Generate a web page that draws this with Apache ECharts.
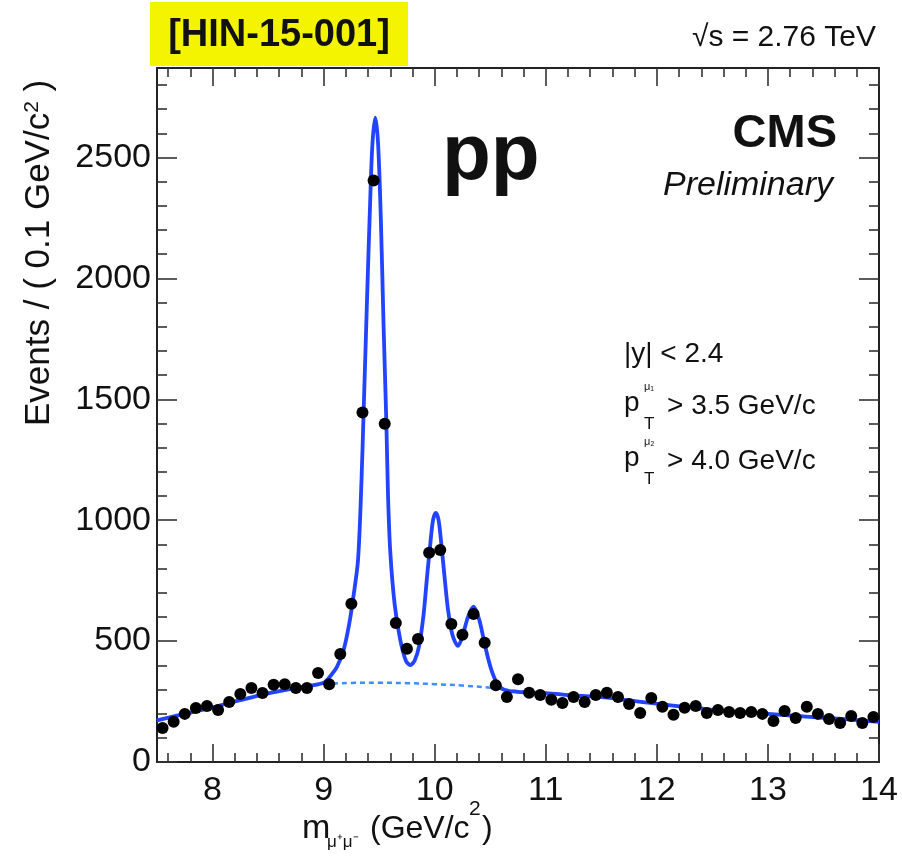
<!DOCTYPE html>
<html><head><meta charset="utf-8">
<script src="https://cdn.jsdelivr.net/npm/echarts@6/dist/echarts.min.js"></script>
<style>html,body{margin:0;padding:0;background:#fff}#c{width:902px;height:860px}</style>
</head><body><div id="c"></div>
<script>
// ---- data ----
const massCenters = [7.55,7.65,7.75,7.85,7.95,8.05,8.15,8.25,8.35,8.45,8.55,8.65,8.75,8.85,8.95,
  9.05,9.15,9.25,9.35,9.45,9.55,9.65,9.75,9.85,9.95,10.05,10.15,10.25,10.35,10.45,10.55,10.65,10.75,10.85,10.95,
  11.05,11.15,11.25,11.35,11.45,11.55,11.65,11.75,11.85,11.95,12.05,12.15,12.25,12.35,12.45,12.55,12.65,12.75,12.85,12.95,
  13.05,13.15,13.25,13.35,13.45,13.55,13.65,13.75,13.85,13.95];
const eventCounts = [141,166,199,223,232,215,248,281,306,285,319,322,306,306,368,
  322,447,654,1445,2405,1399,575,468,509,865,877,571,526,612,493,317,269,342,286,277,
  257,244,269,248,277,286,269,240,203,265,228,195,224,232,203,215,207,203,207,199,
  170,211,182,228,199,178,161,190,161,186];
const fitMass = [7.5,7.75,8.0,8.25,8.5,8.75,9.0,9.06,9.12,9.18,9.23,9.27,9.31,9.34,9.36,9.39,9.42,9.44,9.465,9.49,9.515,9.54,9.565,9.58,9.6,9.64,9.69,9.74,9.78,9.82,9.86,9.9,9.93,9.96,9.985,10.01,10.035,10.06,10.09,10.12,10.16,10.21,10.25,10.3,10.35,10.4,10.44,10.48,10.52,10.57,10.63,10.75,11.0,11.25,11.5,11.75,12.0,12.25,12.5,12.75,13.0,13.25,13.5,13.75,14.0];
const fitTotal = [172,199,226,256,284,306,328,355,393,463,570,690,836,1150,1445,1900,2330,2560,2665,2560,2250,1800,1400,1100,870,650,505,420,401,420,480,610,760,900,1000,1030,1000,900,760,630,525,480,520,600,642,590,510,430,368,318,298,290,285,275,268,255,241,228,216,207,199,191,183,175,166];
const bkgMass = [7.5,7.75,8.0,8.25,8.5,8.75,9.0,9.25,9.5,9.75,10.0,10.25,10.5,10.75,11.0,11.25,11.5,11.75,12.0,12.25,12.5,12.75,13.0,13.25,13.5,13.75,14.0];
const bkgValues = [172,199,226,256,284,306,321,327,328,326,322,316,307,293,285,275,268,255,241,228,216,207,199,191,183,175,166];
const xTickLabels = [8,9,10,11,12,13,14];
const yTickLabels = [0,500,1000,1500,2000,2500];

// ---- helpers ----
const FONT = '"Liberation Sans", Arial, Helvetica, sans-serif';
const xMinor = []; for (let i = 38; i <= 70; i++) { if (i % 5 !== 0) xMinor.push(i / 5); }
const yMinor = []; for (let v = 100; v < 2870; v += 100) { if (v % 500 !== 0) yMinor.push(v); }
const frame = {color: '#222', width: 2};

function xAx(pos, ticks, len, showLabels, showLine) {
  return {type: 'value', position: pos, min: 7.5, max: 14,
    axisLine: {show: showLine, onZero: false, lineStyle: frame},
    axisTick: {show: true, inside: true, length: len, customValues: ticks, lineStyle: {color: '#333', width: 1.6}},
    axisLabel: {show: showLabels, customValues: xTickLabels, margin: 12, fontSize: 34, color: '#111', fontFamily: FONT,
      formatter: v => String(v)},
    splitLine: {show: false}};
}
function yAx(pos, ticks, len, showLabels, showLine) {
  return {type: 'value', position: pos, min: 0, max: 2870,
    axisLine: {show: showLine, onZero: false, lineStyle: frame},
    axisTick: {show: true, inside: true, length: len, customValues: ticks, lineStyle: {color: '#333', width: 1.6}},
    axisLabel: {show: showLabels, customValues: yTickLabels, margin: 6, fontSize: 34, color: '#111', fontFamily: FONT,
      formatter: v => String(v)},
    splitLine: {show: false}};
}
function txt(x, y, text, font, align, extra) {
  return Object.assign({type: 'text', x: x, y: y, z: 100,
    style: {text: text, font: font, fill: '#111', textAlign: align, align: align,
            textVerticalAlign: 'middle', verticalAlign: 'middle'}}, extra || {});
}

const chart = echarts.init(document.getElementById('c'));
chart.setOption({
  animation: false,
  backgroundColor: '#fff',
  grid: {left: 157, right: 23, top: 68, bottom: 98, containLabel: false},
  xAxis: [
    xAx('bottom', xTickLabels, 18, true, true),
    xAx('bottom', xMinor, 9, false, false),
    xAx('top', xTickLabels, 18, false, true),
    xAx('top', xMinor, 9, false, false)
  ],
  yAxis: [
    yAx('left', yTickLabels, 20, true, true),
    yAx('left', yMinor, 10, false, false),
    yAx('right', yTickLabels, 20, false, true),
    yAx('right', yMinor, 10, false, false)
  ],
  series: [
    {type: 'line', name: 'background', xAxisIndex: 0, yAxisIndex: 0, z: 2,
      data: bkgMass.map((m, i) => [m, bkgValues[i]]), smooth: 0.4, showSymbol: false,
      lineStyle: {color: '#3d8eff', width: 2.5, type: [5, 4]}},
    {type: 'line', name: 'fit', xAxisIndex: 0, yAxisIndex: 0, z: 3,
      data: fitMass.map((m, i) => [m, fitTotal[i]]), smooth: 0.3, showSymbol: false,
      lineStyle: {color: '#2243ff', width: 3.8}},
    {type: 'scatter', name: 'data', xAxisIndex: 0, yAxisIndex: 0, z: 5,
      data: massCenters.map((m, i) => [m, eventCounts[i]]), symbolSize: 12,
      itemStyle: {color: '#000', opacity: 1}}
  ],
  graphic: [
    {type: 'rect', shape: {x: 150, y: 2, width: 258, height: 64}, style: {fill: '#f4f400'}, z: 90},
    txt(279, 36, '[HIN-15-001]', 'bold 38px ' + FONT, 'center'),
    txt(876, 38, '√s = 2.76 TeV', '30px ' + FONT, 'right'),
    txt(837, 134, 'CMS', 'bold 47px ' + FONT, 'right'),
    txt(833, 186, 'Preliminary', 'italic 34px ' + FONT, 'right'),
    txt(442, 157, 'pp', 'bold 80px ' + FONT, 'left'),
    txt(624, 354, '|y| < 2.4', '28px ' + FONT, 'left'),
    txt(624, 403, 'p', '28px ' + FONT, 'left'),
    txt(644, 387, 'μ₁', '11px ' + FONT, 'left'),
    txt(644, 424, 'T', '17px ' + FONT, 'left'),
    txt(667, 406, '> 3.5 GeV/c', '28px ' + FONT, 'left'),
    txt(624, 458, 'p', '28px ' + FONT, 'left'),
    txt(644, 442, 'μ₂', '11px ' + FONT, 'left'),
    txt(644, 479, 'T', '17px ' + FONT, 'left'),
    txt(667, 461, '> 4.0 GeV/c', '28px ' + FONT, 'left'),
    // x-axis title
    txt(302, 829, 'm', '34px ' + FONT, 'left'),
    txt(327, 842, 'μ⁺μ⁻', '17px ' + FONT, 'left'),
    txt(370, 829, '(GeV/c', '32px ' + FONT, 'left'),
    txt(469, 809, '2', '21px ' + FONT, 'left'),
    txt(482, 829, ')', '32px ' + FONT, 'left'),
    // y-axis title (rotated)
    {type: 'group', x: 39, y: 426, rotation: Math.PI / 2, z: 100, children: [
      {type: 'text', x: 0, y: 0, style: {text: '{a|Events / ( 0.1 GeV/c}{s|2}{a| )}', fill: '#111',
        textAlign: 'left', align: 'left', textVerticalAlign: 'middle', verticalAlign: 'middle',
        rich: {a: {font: '35px ' + FONT, fill: '#111', verticalAlign: 'bottom'},
               s: {font: '21px ' + FONT, fill: '#111', verticalAlign: 'top'}}}}
    ]}
  ]
});
</script></body></html>
